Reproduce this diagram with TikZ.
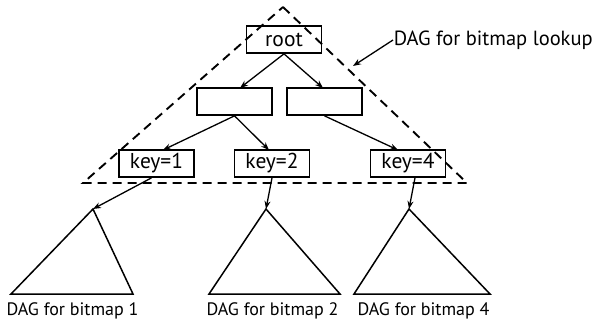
\documentclass[tikz,border=0pt]{standalone}
\usepackage{fontspec}
\setmainfont{PT Sans}
\usetikzlibrary{arrows.meta}
\begin{document}
\begin{tikzpicture}[
            x=1pt,
            y=-1pt,
            line width=1.5pt,
            font=\fontsize{18}{20}\selectfont,
            keybox/.style={
                draw,
                rectangle,
                line width=1.7pt,
                minimum width=75pt,
                minimum height=27pt,
                inner sep=1pt,
                font=\fontsize{21.5}{24}\selectfont
            },
            ptr/.style={
                -{Stealth[length=8pt,width=6pt]},
                line width=1.3pt
            },
            lbl/.style={
                inner sep=0pt
            }
        ]
            \useasboundingbox (0,0) rectangle (598,325);

            % lookup part
            \node[keybox] (root) at (284,39.5) {root};
            \node[keybox] (midl) at (234.5,101.5) {};
            \node[keybox] (midr) at (324.5,101.5) {};
            \node[keybox] (k1) at (156.5,163.5) {key=1};
            \node[keybox] (k2) at (272,163.5) {key=2};
            \node[keybox] (k4) at (408,163.5) {key=4};

            \draw[ptr] (root.south) -- (240,88);
            \draw[ptr] (root.south) -- (323,88);
            \draw[ptr] (midl.south) -- (163,150);
            \draw[ptr] (midl.south) -- (269,150);
            \draw[ptr] (midr.south) -- (398,150);

            % dashed outline
            \draw[line width=1.9pt, dash pattern=on 9pt off 6pt]
                (283,7) -- (467,183) -- (83,183) -- cycle;
            \node[lbl, anchor=west, font=\fontsize{20.5}{23}\selectfont] (lookup) at (393,40) {DAG for bitmap lookup};
            \draw[ptr] (lookup.west) -- (353,66);

            % bitmap dags
            \coordinate (t1) at (93,209);
            \coordinate (t2) at (266,209);
            \coordinate (t4) at (409,209);
            \draw (t1) -- (11,294) -- (133,294) -- cycle;
            \draw (t2) -- (209,294) -- (340,294) -- cycle;
            \draw (t4) -- (354,294) -- (490,294) -- cycle;

            \draw[ptr] (k1.south) ++(-5,0) -- (t1);
            \draw[ptr] (k2.south) -- (t2);
            \draw[ptr] (k4.south) ++(7,0) -- (t4);

            \node[lbl] (d1) at (72.5,311) {DAG for bitmap 1};
            \node[lbl] (d2) at (272.5,311) {DAG for bitmap 2};
            \node[lbl] (d4) at (423.5,311) {DAG for bitmap 4};
        \end{tikzpicture}
\end{document}
